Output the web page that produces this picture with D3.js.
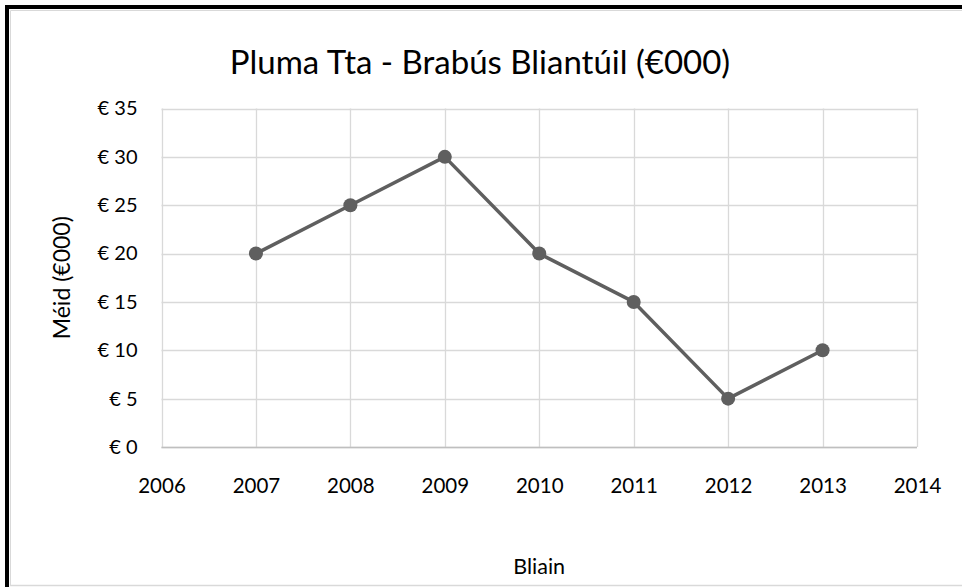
<!DOCTYPE html>
<html>
<head>
<meta charset="utf-8">
<script src="https://cdn.jsdelivr.net/npm/d3@7"></script>
<style>
  html, body { margin: 0; padding: 0; background: #fff; overflow: hidden; }
  svg { display: block; }
  text { font-family: Lato, "Open Sans", sans-serif; fill: #000; }
</style>
</head>
<body>
<svg id="chart" width="962" height="587"></svg>
<script>
const years = [2007, 2008, 2009, 2010, 2011, 2012, 2013];
const values = [20, 25, 30, 20, 15, 5, 10];
const xTicks = [2006, 2007, 2008, 2009, 2010, 2011, 2012, 2013, 2014];
const yTicks = [0, 5, 10, 15, 20, 25, 30, 35];
const title = "Pluma Tta - Brabús Bliantúil (€000)";
const xTitle = "Bliain";
const yTitle = "Méid (€000)";

const svg = d3.select("#chart");
const W = 962, H = 587;

// outer frame: black on left/top, light gray inner edge
svg.append("line").attr("x1", 10.5).attr("x2", W).attr("y1", 10.5).attr("y2", 10.5)
  .attr("stroke", "#d9d9d9").attr("stroke-width", 1);
svg.append("line").attr("x1", 10.5).attr("x2", 10.5).attr("y1", 10.5).attr("y2", 585.5)
  .attr("stroke", "#d9d9d9").attr("stroke-width", 1);
svg.append("line").attr("x1", 10).attr("x2", W).attr("y1", 585.5).attr("y2", 585.5)
  .attr("stroke", "#d9d9d9").attr("stroke-width", 1.5);
svg.append("line").attr("x1", 5).attr("x2", W).attr("y1", 7).attr("y2", 7)
  .attr("stroke", "#000").attr("stroke-width", 4);
svg.append("line").attr("x1", 7).attr("x2", 7).attr("y1", 5).attr("y2", H)
  .attr("stroke", "#000").attr("stroke-width", 4);

const m = { left: 161.5, right: 917, top: 108.5, bottom: 447 };
const x = d3.scaleLinear().domain([2006, 2014]).range([m.left, m.right]);
const y = d3.scaleLinear().domain([0, 35]).range([m.bottom, m.top]);

// gridlines
const g = svg.append("g");
g.selectAll(".hg").data(yTicks).join("line")
  .attr("x1", m.left).attr("x2", m.right)
  .attr("y1", d => Math.round(y(d)) + 0.5).attr("y2", d => Math.round(y(d)) + 0.5)
  .attr("stroke", "#d9d9d9").attr("stroke-width", 1.3);
g.selectAll(".vg").data(xTicks).join("line")
  .attr("y1", m.top).attr("y2", m.bottom)
  .attr("x1", d => Math.round(x(d)) + 0.5).attr("x2", d => Math.round(x(d)) + 0.5)
  .attr("stroke", "#d9d9d9").attr("stroke-width", 1.3);
// bottom axis line
svg.append("line").attr("x1", m.left).attr("x2", m.right)
  .attr("y1", Math.round(y(0)) + 0.5).attr("y2", Math.round(y(0)) + 0.5)
  .attr("stroke", "#bfbfbf").attr("stroke-width", 1.5);

// axes (labels only) via d3 axes
const yAxis = d3.axisLeft(y).tickValues(yTicks).tickSize(0).tickPadding(24)
  .tickFormat(d => "€ " + d);
svg.append("g").attr("transform", `translate(${m.left},0)`).call(yAxis)
  .call(s => s.select(".domain").remove())
  .call(s => s.selectAll("text").attr("font-size", 20).attr("font-family", "Lato, sans-serif").attr("fill", "#000"));

const xAxis = d3.axisBottom(x).tickValues(xTicks).tickSize(0).tickPadding(31)
  .tickFormat(d3.format("d"));
svg.append("g").attr("transform", `translate(0,${m.bottom})`).call(xAxis)
  .call(s => s.select(".domain").remove())
  .call(s => s.selectAll("text").attr("font-size", 20.5).attr("font-family", "Lato, sans-serif").attr("fill", "#000"));

// line + markers
const data = years.map((yr, i) => ({ yr, v: values[i] }));
svg.append("path").datum(data)
  .attr("fill", "none").attr("stroke", "#5f5f5f").attr("stroke-width", 3.5)
  .attr("stroke-linejoin", "round")
  .attr("d", d3.line().x(d => x(d.yr)).y(d => y(d.v)));
svg.selectAll(".pt").data(data).join("circle")
  .attr("cx", d => x(d.yr)).attr("cy", d => y(d.v)).attr("r", 7)
  .attr("fill", "#5f5f5f");

// titles
svg.append("text").attr("x", 480).attr("y", 74).attr("text-anchor", "middle")
  .attr("font-size", 33).text(title);
svg.append("text").attr("x", (m.left + m.right) / 2).attr("y", 574).attr("text-anchor", "middle")
  .attr("font-size", 21.5).text(xTitle);
svg.append("text").attr("transform", `translate(70,${(m.top + m.bottom) / 2}) rotate(-90)`)
  .attr("text-anchor", "middle").attr("font-size", 23).text(yTitle);
</script>
</body>
</html>
